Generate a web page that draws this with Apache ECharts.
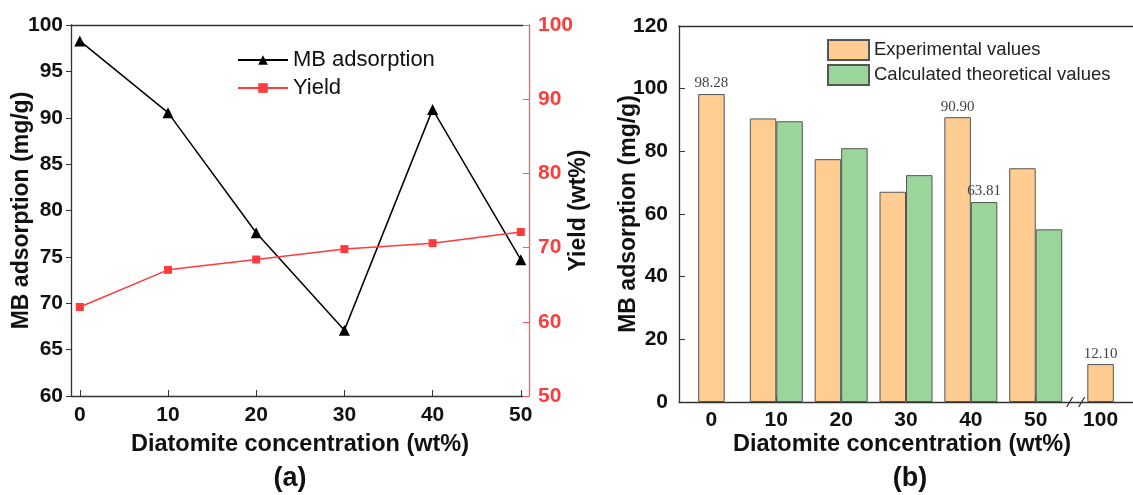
<!DOCTYPE html>
<html><head><meta charset="utf-8">
<script src="https://cdn.jsdelivr.net/npm/echarts@6/dist/echarts.min.js"></script>
<style>html,body{margin:0;padding:0;background:#fff}#c{width:1133px;height:495px}</style>
</head><body><div id="c"></div>
<script>
// ---- Panel (a) data ----
const concA = [0, 10, 20, 30, 40, 50];
const mbAdsorption = [98.28, 90.55, 77.6, 67.1, 90.90, 74.7];
const yieldPct = [62.0, 67.0, 68.4, 69.8, 70.6, 72.1];
const xTicksA = [0, 10, 20, 30, 40, 50];

// ---- Panel (b) data ----
const categoriesB = ['0', '10', '20', '30', '40', '50', '100'];
const experimentalB = [98.28, 90.5, 77.5, 67.1, 90.90, 74.6, 12.10];
const calculatedB = [null, 89.6, 81.0, 72.4, 63.81, 55.1, null];
const labeledExp = ['0', '40', '100'];
const labeledCalc = ['40'];

const FONT = 'Liberation Sans, Arial, sans-serif';
const SERIF = 'Liberation Serif, Times New Roman, serif';
const RED = '#FF3B3B';
const ORANGE = '#FFCC91';
const GREEN = '#9AD69A';
const BORDER = '#555';

function barItem(v, cat, labeled) {
  if (v === null) return '-';
  return labeled.includes(cat) ? { value: v, label: { show: true } } : v;
}
const expGrouped = categoriesB.map((c, i) => calculatedB[i] === null ? '-' : barItem(experimentalB[i], c, labeledExp));
const expSingle = categoriesB.map((c, i) => calculatedB[i] === null ? barItem(experimentalB[i], c, labeledExp) : '-');
const calcGrouped = categoriesB.map((c, i) => barItem(calculatedB[i], c, labeledCalc));

const barLabel = {
  show: false, position: 'top', distance: 3, fontFamily: SERIF, fontSize: 15, color: '#444',
  formatter: p => Number(p.value).toFixed(2)
};
const axisLineDark = { show: true, onZero: false, lineStyle: { color: '#333', width: 1.3 } };
const tickLabel = { fontFamily: FONT, fontSize: 21, fontWeight: 'bold', color: '#111' };
const nameStyle = { fontFamily: FONT, fontSize: 23, fontWeight: 'bold', color: '#111' };

const chart = echarts.init(document.getElementById('c'), null, { renderer: 'canvas' });
const option = {
  animation: false,
  backgroundColor: '#fff',
  grid: [
    { left: 71, top: 25, width: 452, height: 371 },
    { left: 679, top: 26, width: 462, height: 376 }
  ],
  xAxis: [
    { gridIndex: 0, type: 'value', min: -1, max: 50.25, position: 'bottom',
      axisLine: axisLineDark,
      axisTick: { show: true, inside: true, length: 6, customValues: xTicksA, lineStyle: { color: '#333' } },
      axisLabel: Object.assign({ customValues: xTicksA, margin: 9 }, tickLabel),
      splitLine: { show: false } },
    { gridIndex: 0, type: 'value', min: -1, max: 50.25, position: 'top',
      axisLine: axisLineDark, axisTick: { show: false }, axisLabel: { show: false }, splitLine: { show: false } },
    { gridIndex: 1, type: 'category', data: categoriesB, position: 'bottom',
      axisLine: axisLineDark,
      axisTick: { show: true, inside: true, length: 6, alignWithLabel: true, lineStyle: { color: '#333' } },
      axisLabel: Object.assign({ margin: 8 }, tickLabel) },
    { gridIndex: 1, type: 'category', data: categoriesB, position: 'top',
      axisLine: axisLineDark, axisTick: { show: false }, axisLabel: { show: false } }
  ],
  yAxis: [
    { gridIndex: 0, type: 'value', min: 60, max: 100, interval: 5, position: 'left',
      axisLine: axisLineDark,
      axisTick: { show: true, length: 5, lineStyle: { color: '#333' } },
      axisLabel: Object.assign({ margin: 8 }, tickLabel),
      splitLine: { show: false },
      name: 'MB adsorption (mg/g)', nameLocation: 'middle', nameGap: 38, nameMoveOverlap: false, nameTextStyle: nameStyle },
    { gridIndex: 0, type: 'value', min: 50, max: 100, interval: 10, position: 'right', offset: 6,
      axisLine: { show: true, onZero: false, lineStyle: { color: '#FF5A5A', width: 1.3 } },
      axisTick: { show: true, inside: true, length: 6, lineStyle: { color: '#FF5A5A' } },
      axisLabel: Object.assign({}, tickLabel, { margin: 9, color: RED }),
      splitLine: { show: false },
      name: 'Yield (wt%)', nameLocation: 'middle', nameGap: 38, nameMoveOverlap: false, nameTextStyle: nameStyle },
    { gridIndex: 1, type: 'value', min: 0, max: 120, interval: 20, position: 'left',
      axisLine: axisLineDark,
      axisTick: { show: true, inside: true, length: 6, lineStyle: { color: '#333' } },
      axisLabel: Object.assign({ margin: 11 }, tickLabel),
      splitLine: { show: false },
      name: 'MB adsorption (mg/g)', nameLocation: 'middle', nameGap: 39, nameMoveOverlap: false, nameTextStyle: nameStyle }
  ],
  legend: [
    { data: ['MB adsorption', 'Yield'], orient: 'vertical', left: 237, top: 49, padding: 0,
      itemWidth: 50, itemHeight: 12, itemGap: 6,
      textStyle: { fontFamily: FONT, fontSize: 22, color: '#111' } },
    { data: ['Experimental values', 'Calculated theoretical values'], orient: 'vertical', left: 827, top: 39, padding: 0,
      itemWidth: 41, itemHeight: 20, itemGap: 3, icon: 'rect',
      textStyle: { fontFamily: FONT, fontSize: 18.5, color: '#222' } }
  ],
  series: [
    { name: 'MB adsorption', type: 'line', xAxisIndex: 0, yAxisIndex: 0,
      data: concA.map((x, i) => [x, mbAdsorption[i]]),
      symbol: 'triangle', symbolSize: 11, itemStyle: { color: '#000' }, lineStyle: { color: '#000', width: 1.5 } },
    { name: 'Yield', type: 'line', xAxisIndex: 0, yAxisIndex: 1,
      data: concA.map((x, i) => [x, yieldPct[i]]),
      symbol: 'rect', symbolSize: 8, itemStyle: { color: RED }, lineStyle: { color: RED, width: 1.5 } },
    { name: 'Experimental values', type: 'bar', xAxisIndex: 2, yAxisIndex: 2, data: expGrouped,
      barWidth: 26.5, barGap: '0%', label: barLabel,
      itemStyle: { color: ORANGE, borderColor: BORDER, borderWidth: 1 } },
    { name: 'Calculated theoretical values', type: 'bar', xAxisIndex: 2, yAxisIndex: 2, data: calcGrouped,
      barWidth: 26.5, barGap: '0%', label: barLabel,
      itemStyle: { color: GREEN, borderColor: BORDER, borderWidth: 1 } },
    { name: 'Experimental values', type: 'bar', xAxisIndex: 3, yAxisIndex: 2, data: expSingle,
      barWidth: 26.5, label: barLabel,
      itemStyle: { color: ORANGE, borderColor: BORDER, borderWidth: 1 } }
  ]
};
chart.setOption(option);

// axis titles, panel letters, axis break marks
const p5 = chart.convertToPixel({ gridIndex: 1 }, [5, 0]);
const p6 = chart.convertToPixel({ gridIndex: 1 }, [6, 0]);
const mid = (p5[0] + p6[0]) / 2;
const ay = p5[1];
const txt = (x, y, t, size) => ({ type: 'text', x: x, y: y, style: {
  text: t, fontFamily: FONT, fontSize: size, fontWeight: 'bold', fill: '#111', align: 'center', verticalAlign: 'middle' } });
const slash = cx => ({ type: 'line', shape: { x1: cx - 3, y1: ay + 5, x2: cx + 3, y2: ay - 5 }, style: { stroke: '#333', lineWidth: 1.3 } });
chart.setOption({
  graphic: [
    txt(300, 445, 'Diatomite concentration (wt%)', 23.5),
    txt(902, 445, 'Diatomite concentration (wt%)', 23.5),
    txt(290, 479, '(a)', 27),
    txt(910, 479, '(b)', 27),
    { type: 'rect', shape: { x: mid + 2, y: ay - 2, width: 11, height: 4 }, style: { fill: '#fff' } },
    slash(mid + 1.5),
    slash(mid + 13.5)
  ]
});
</script></body></html>
